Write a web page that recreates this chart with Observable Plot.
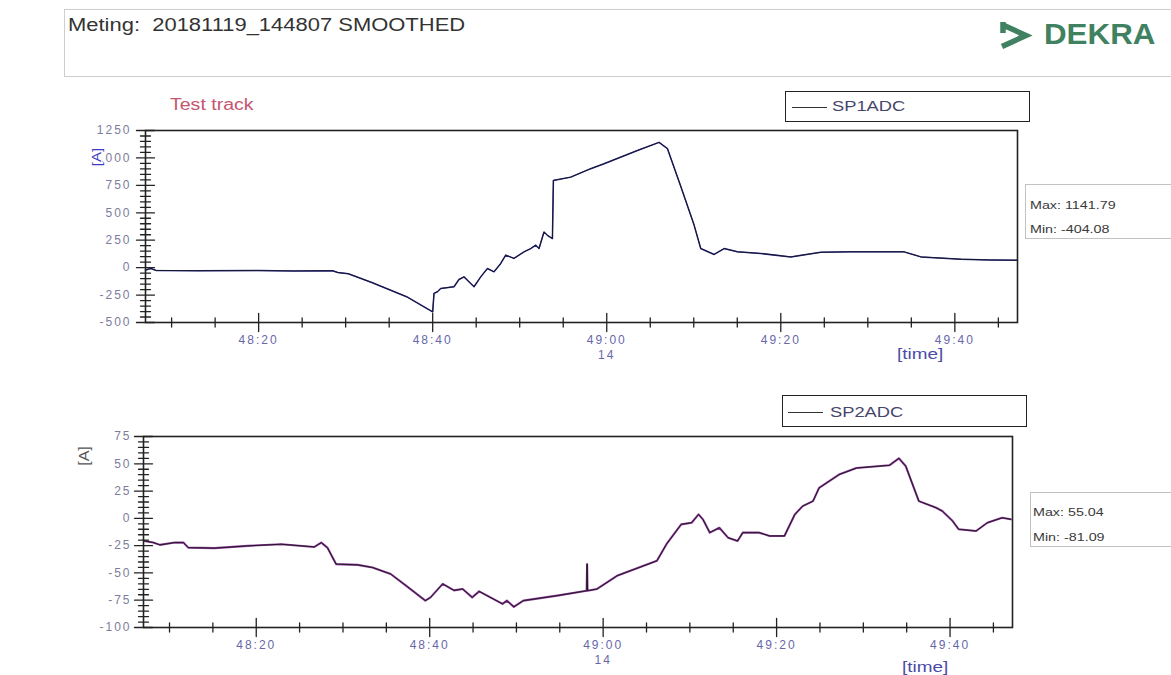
<!DOCTYPE html>
<html>
<head>
<meta charset="utf-8">
<script src="https://cdn.jsdelivr.net/npm/d3@7"></script>
<script src="https://cdn.jsdelivr.net/npm/@observablehq/plot@0.6"></script>
<style>
  html, body { margin: 0; padding: 0; background: #fff; overflow: hidden; }
  body { font-family: "Liberation Sans", Arial, sans-serif; }
  #page { position: relative; width: 1171px; height: 675px; overflow: hidden; background: #fff; }
  .abs { position: absolute; white-space: nowrap; line-height: 1; }
  .sx { transform-origin: left top; }
  .chart { position: absolute; left: 0; }
  .chart svg text { letter-spacing: 2px; }
  .box { position: absolute; box-sizing: border-box; }
</style>
</head>
<body>
<div id="page">
  <!-- header -->
  <div class="box" style="left:64px;top:9px;width:1130px;height:68px;border:1px solid #cdcdcd;"></div>
  <div class="abs sx" style="left:68px;top:15.5px;font-size:18px;color:#333;transform:scaleX(1.22);">Meting:&nbsp; 20181119_144807 SMOOTHED</div>
  <svg class="abs" style="left:995px;top:18px;" width="40" height="34" viewBox="995 18 40 34">
    <path d="M1003,22 L1003,33 M1003,25 L1026,35.5 L1002,46.5" fill="none" stroke="#3f8160" stroke-width="5.5" stroke-linejoin="miter" stroke-linecap="butt"/>
  </svg>
  <div class="abs sx" style="left:1044px;top:20px;font-size:29px;font-weight:bold;color:#3f8160;transform:scaleX(1.08);">DEKRA</div>

  <!-- top chart decorations -->
  <div class="abs sx" style="left:170px;top:97px;font-size:16px;color:#c4566e;transform:scaleX(1.22);">Test track</div>
  <div class="box" style="left:785px;top:91px;width:245px;height:31px;border:1.5px solid #222;"></div>
  <div class="box" style="left:792px;top:106.5px;width:35px;height:0;border-top:1.2px solid #333;"></div>
  <div class="abs sx" style="left:832px;top:98px;font-size:15px;color:#45456a;transform:scaleX(1.22);">SP1ADC</div>
  <div class="box" style="left:1025px;top:184px;width:170px;height:55px;border:1px solid #c2c2c2;"></div>
  <div class="abs sx" style="left:1030px;top:199.5px;font-size:11px;color:#3a3a3a;transform:scaleX(1.3);">Max: 1141.79</div>
  <div class="abs sx" style="left:1030px;top:223.5px;font-size:11px;color:#3a3a3a;transform:scaleX(1.3);">Min: -404.08</div>

  <div id="top" class="chart" style="top:80px;"></div>

  <!-- bottom chart decorations -->
  <div class="box" style="left:782px;top:395px;width:245px;height:32px;border:1.5px solid #222;"></div>
  <div class="box" style="left:788px;top:411.5px;width:35px;height:0;border-top:1.2px solid #333;"></div>
  <div class="abs sx" style="left:830px;top:404px;font-size:15px;color:#45456a;transform:scaleX(1.22);">SP2ADC</div>
  <div class="box" style="left:1030px;top:492px;width:170px;height:55px;border:1px solid #c2c2c2;"></div>
  <div class="abs sx" style="left:1033px;top:506.5px;font-size:11px;color:#3a3a3a;transform:scaleX(1.3);">Max: 55.04</div>
  <div class="abs sx" style="left:1033px;top:531.5px;font-size:11px;color:#3a3a3a;transform:scaleX(1.3);">Min: -81.09</div>

  <div id="bot" class="chart" style="top:385px;"></div>

  <!-- axis titles drawn on top -->
  <div class="abs" style="left:96px;top:157px;font-size:13px;color:#3b3bc4;background:#fff;padding:0 2px;transform:translate(-50%,-50%) rotate(-90deg) scaleX(1.15);">[A]</div>
  <div class="abs sx" style="left:897px;top:347px;font-size:14px;color:#4a4aa8;transform:scaleX(1.35);">[time]</div>
  <div class="abs" style="left:84px;top:456px;font-size:14px;color:#555;transform:translate(-50%,-50%) rotate(-90deg) scaleX(1.15);">[A]</div>
  <div class="abs sx" style="left:902px;top:660px;font-size:14px;color:#4a4aa8;transform:scaleX(1.35);">[time]</div>
</div>

<script>
// ---- time axis (seconds after 14:48:00) ----
const xDomain = [7.0, 107.2];
const xTickValues = [20, 40, 60, 80, 100];
const xTickLabels = ["48:20", "48:40", "49:00\n14", "49:20", "49:40"];
const xMinorTicks = [10, 15, 25, 30, 35, 45, 50, 55, 65, 70, 75, 85, 90, 95, 105];

// ---- SP1ADC (top) ----
const sp1Domain = [-500, 1250];
const sp1Ticks = [-500, -250, 0, 250, 500, 750, 1000, 1250];
const sp1MinorStep = 50;
const sp1Times = [7.0, 7.6, 8.2, 13, 20, 24, 28.5, 29.1, 30.3, 33.0, 37.0, 40.0,
  40.15, 40.54, 40.92, 42.45, 43.02, 43.6, 44.37, 44.75, 45.52, 46.29, 47.05, 47.82,
  48.39, 49.34, 50.49, 51.26, 51.84, 52.22, 52.79, 53.18, 53.76, 53.87, 55.86, 58.16,
  59.69, 63.53, 66.01, 66.98, 68.51, 70.03, 70.8, 72.34, 73.49, 75.02, 77.7, 81.15,
  84.6, 88, 94.17, 96.1, 100.7, 104, 107.2];
const sp1Values = [-22, -8, -25, -28, -27, -30, -28, -45, -55, -135, -265, -404.08,
  -235, -220, -190, -174, -108, -84, -144, -174, -84, -8, -38, 38,
  114, 84, 144, 174, 205, 174, 325, 295, 265, 795, 825, 902,
  947, 1068, 1141.79, 1084, 740, 390, 174, 120, 174, 144, 129, 98,
  140, 144, 144, 98, 77, 70, 68];

// ---- SP2ADC (bottom) ----
const sp2Domain = [-100, 75];
const sp2Ticks = [-100, -75, -50, -25, 0, 25, 50, 75];
const sp2MinorStep = 5;
const sp2Times = [7.1, 8.13, 8.89, 10.6, 11.6, 12.15, 15.2, 19.0, 22.9, 26.7, 27.5, 28.2,
  29.2, 31.7, 33.4, 35.5, 37.0, 39.5, 40.1, 41.5, 42.8, 43.8, 44.9, 45.7,
  48.4, 48.9, 49.7, 50.8, 54.7, 58.1, 58.15, 58.2, 59.3, 61.6, 66.2, 67.3,
  69.0, 70.2, 71.0, 71.5, 72.3, 73.4, 74.4, 75.5, 76.1, 78.0, 79.2, 80.9,
  82.1, 83.0, 84.2, 84.9, 87.2, 89.2, 93.0, 94.1, 94.9, 96.4, 98.4, 99.1,
  100.3, 101.0, 103.0, 104.3, 106.0, 107.0];
const sp2Values = [-20.7, -22.2, -24.3, -22.2, -22.2, -26.8, -27.3, -25.2, -23.7, -26.2, -22.2, -26.8,
  -41.9, -42.6, -45, -51, -60, -75.4, -72.4, -60, -66, -64.7, -72.4, -66.9,
  -78.4, -75.4, -81.09, -75.4, -70.8, -66.3, -41.9, -66.3, -64.7, -52.6, -38.9, -23.7,
  -5.5, -4, 3.6, -0.9, -13.1, -8.6, -17.7, -20.7, -13.1, -13.1, -16.1, -16.1,
  3.6, 11.2, 15.8, 27.9, 40.1, 46.1, 48.6, 55.04, 47.7, 15.8, 9.7, 6.7,
  -2.5, -10, -11.6, -4, 0.5, -0.9];

// ---- build tables ----
const sp1 = sp1Times.map((t, i) => ({t, v: sp1Values[i]}));
const sp2 = sp2Times.map((t, i) => ({t, v: sp2Values[i]}));
const xLabelMap = new Map(xTickValues.map((d, i) => [d, xTickLabels[i]]));

const tickShape = {draw(ctx, l) { ctx.moveTo(0, 0); ctx.lineTo(0, -l); }};

function panel({data, yDomain, yTicks, yMinorStep, height, marginTop, marginBottom, marginLeft, marginRight, yPad, under, underW}) {
  const ymin = yDomain[0], xmin = xDomain[0];
  const yMinor = d3.range(yDomain[0], yDomain[1] + 1e-9, yMinorStep).filter(v => !yTicks.includes(v));
  return Plot.plot({
    width: 1171, height, marginTop, marginBottom, marginLeft, marginRight,
    x: {domain: xDomain, axis: null, label: null},
    y: {domain: yDomain, axis: null, label: null},
    style: {fontFamily: "Liberation Sans, Arial, sans-serif", fontSize: "12px", background: "transparent", overflow: "visible"},
    marks: [
      Plot.axisX({ticks: xTickValues, anchor: "bottom", tickSize: 0, tickPadding: 10, label: null,
        tickFormat: d => xLabelMap.get(d), fill: "#6767a8", lineHeight: 1.3}),
      Plot.axisY({ticks: yTicks, anchor: "left", tickSize: 0, tickPadding: yPad, label: null,
        tickFormat: d => String(d), fill: "#7c7c9c"}),
      Plot.line(data, {x: "t", y: "v", stroke: under, strokeWidth: underW, strokeLinejoin: "round"}),
      Plot.line(data, {x: "t", y: "v", stroke: "#151515", strokeWidth: 0.9, strokeLinejoin: "round"}),
      Plot.frame({stroke: "#222", strokeWidth: 1.6}),
      Plot.vector(xMinorTicks.map(t => ({t, v: ymin})), {x: "t", y: "v", length: 9, anchor: "middle", shape: tickShape, stroke: "#222", strokeWidth: 1.3}),
      Plot.vector(xTickValues.map(t => ({t, v: ymin})), {x: "t", y: "v", length: 18, anchor: "middle", shape: tickShape, stroke: "#222", strokeWidth: 1.3}),
      Plot.vector(yMinor.map(v => ({t: xmin, v})), {x: "t", y: "v", length: 10, rotate: 90, anchor: "middle", shape: tickShape, stroke: "#222", strokeWidth: 1.3}),
      Plot.vector(yTicks.map(v => ({t: xmin, v})), {x: "t", y: "v", length: 18, rotate: 90, anchor: "middle", shape: tickShape, stroke: "#222", strokeWidth: 1.3})
    ]
  });
}

document.getElementById("top").append(panel({
  data: sp1, yDomain: sp1Domain, yTicks: sp1Ticks, yMinorStep: sp1MinorStep,
  height: 300, marginTop: 50, marginBottom: 58, marginLeft: 145, marginRight: 154, yPad: 14,
  under: "#2a2a9c", underW: 1.5
}));

document.getElementById("bot").append(panel({
  data: sp2, yDomain: sp2Domain, yTicks: sp2Ticks, yMinorStep: sp2MinorStep,
  height: 290, marginTop: 51, marginBottom: 48, marginLeft: 143, marginRight: 159, yPad: 12,
  under: "#8e3c9c", underW: 2.1
}));
</script>
</body>
</html>
